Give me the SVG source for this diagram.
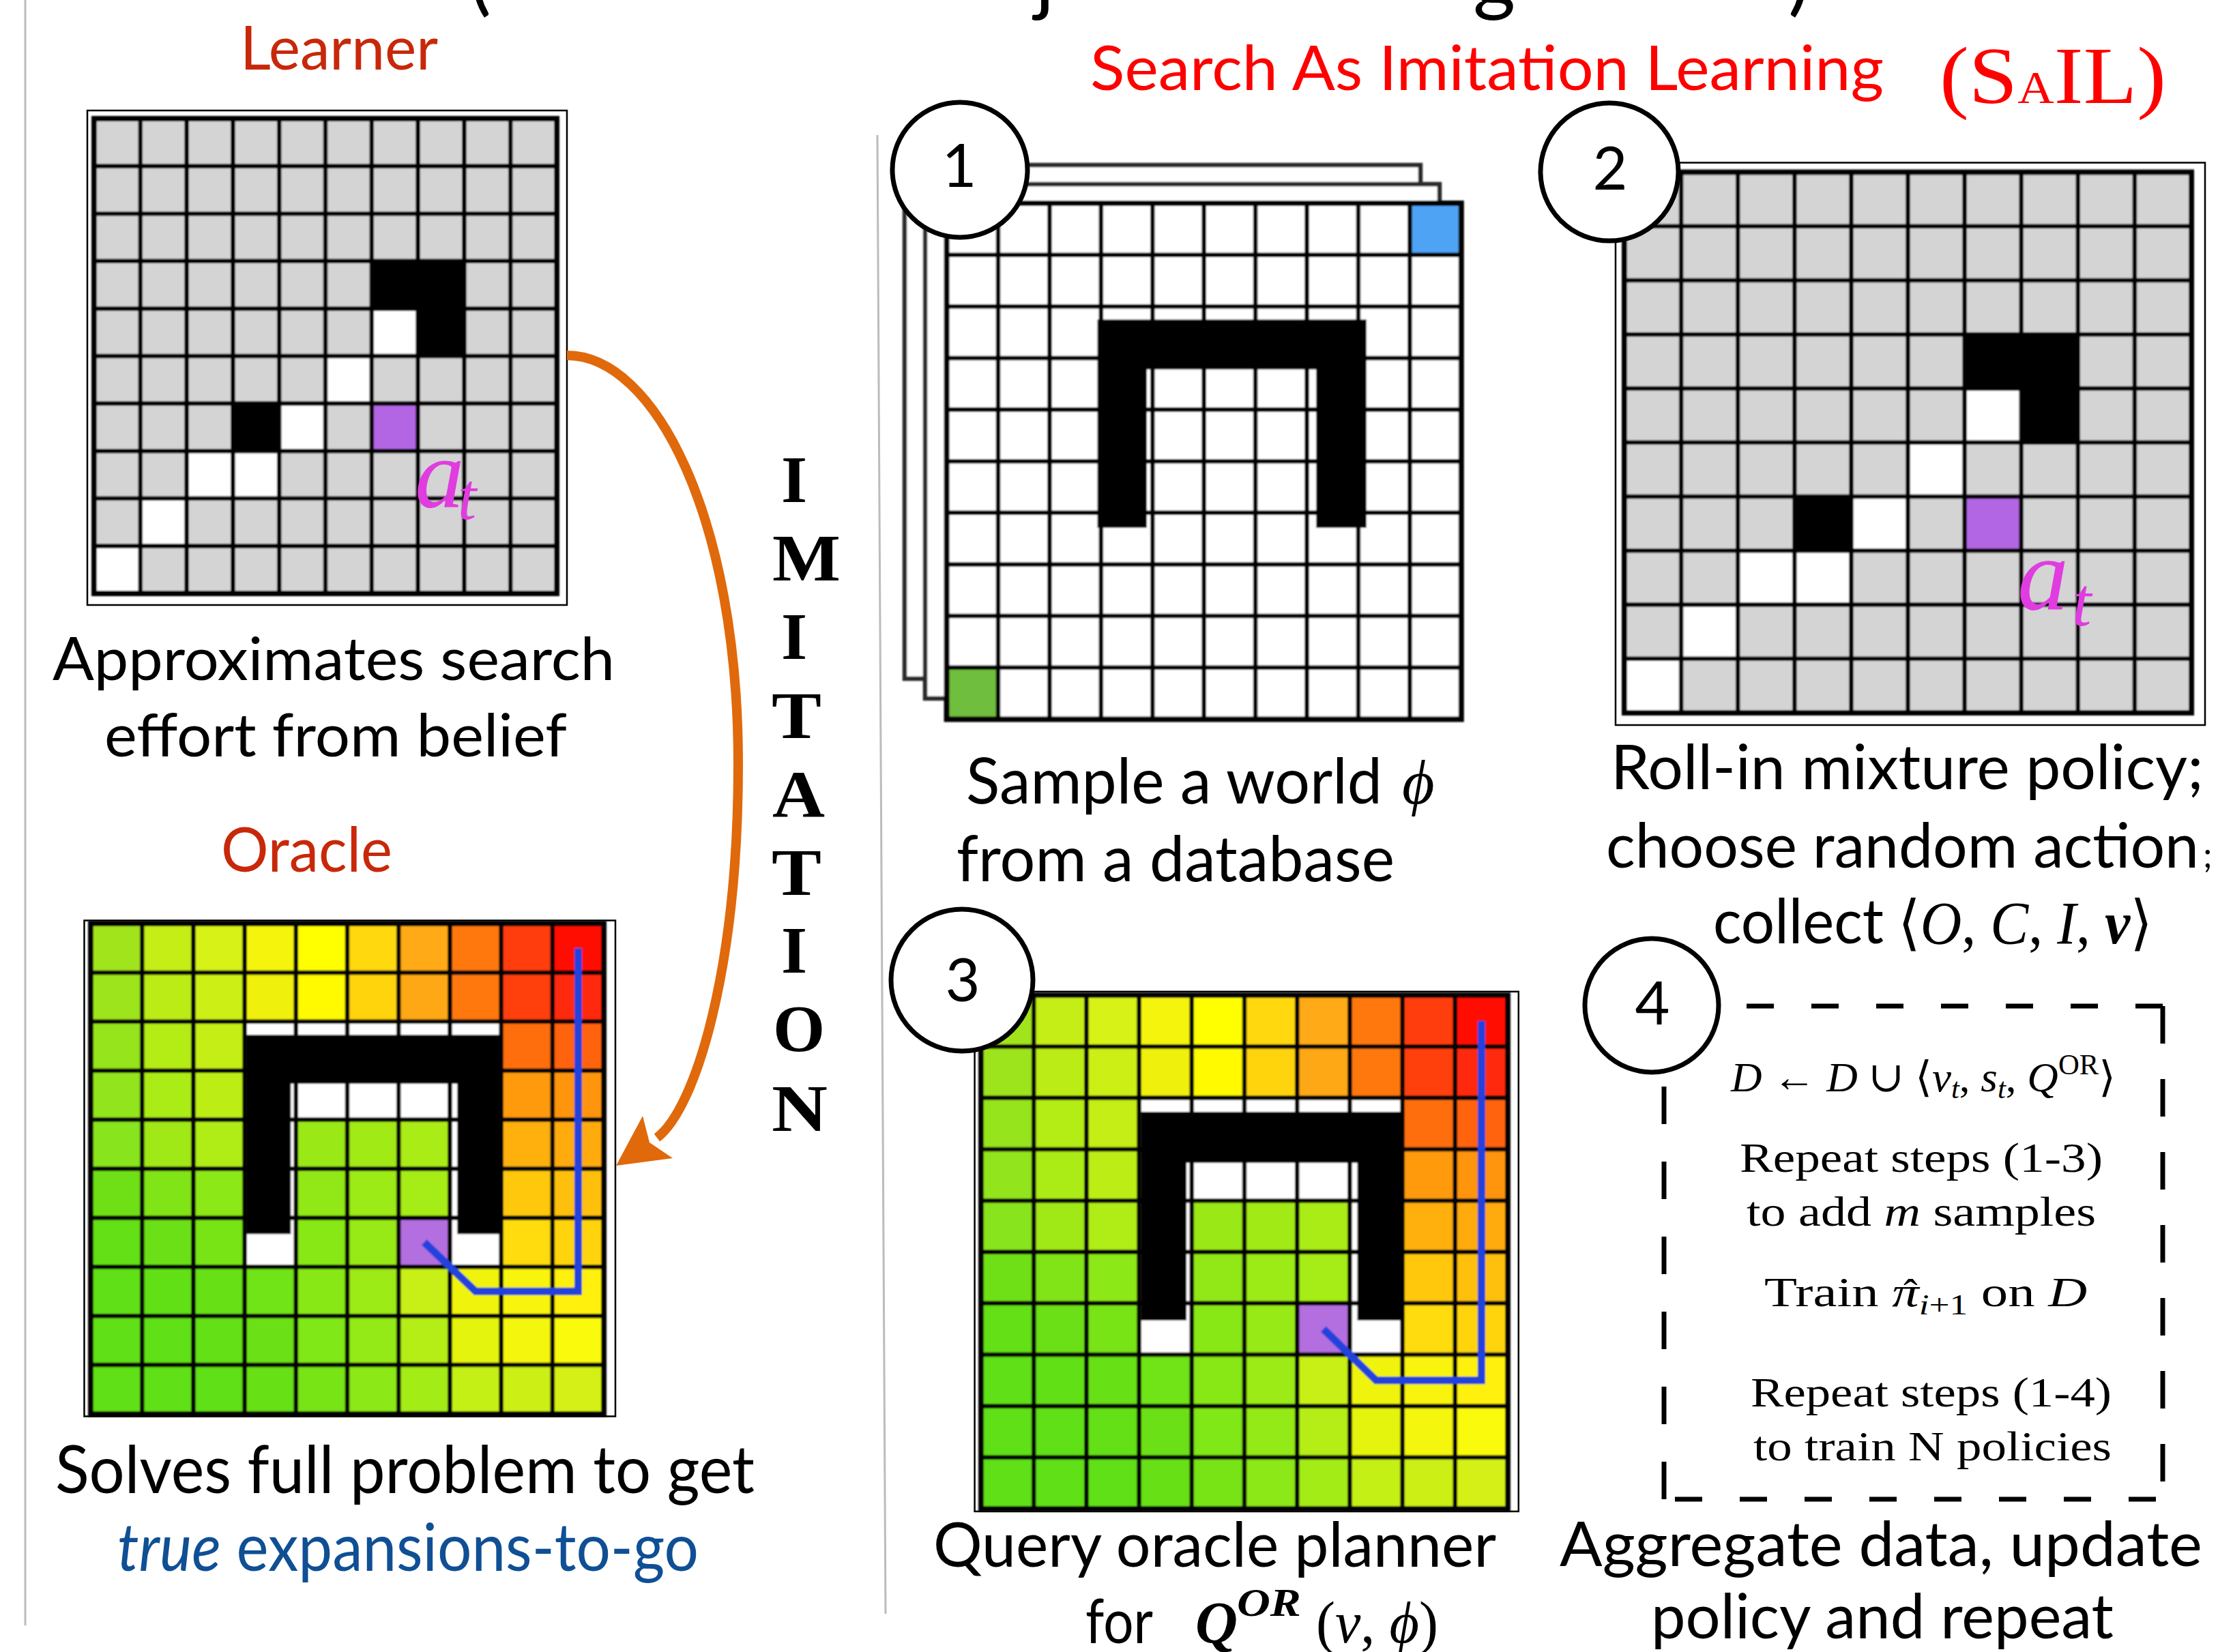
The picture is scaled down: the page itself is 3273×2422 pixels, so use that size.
<svg xmlns="http://www.w3.org/2000/svg" xmlns:xlink="http://www.w3.org/1999/xlink" width="3273" height="2422" viewBox="0 0 3273 2422">
<style>
text{font-family:Lato,"Liberation Sans",sans-serif;fill:#000}
.rm{font-family:"Liberation Serif","DejaVu Serif",serif}
.lbl{fill:#c8280a}
.red{fill:#ff0000}
.blu{fill:#0f4f94}
.gl{fill:none;stroke:#000;stroke-width:6.5;vector-effect:non-scaling-stroke}
.gb{fill:none;stroke:#000;stroke-width:8;vector-effect:non-scaling-stroke}
.frame{fill:#fff;stroke:#000;stroke-width:2.5}
.sheet{fill:#fff;stroke:#2a2a2a;stroke-width:6.5}
.step circle{fill:#fff;stroke:#000;stroke-width:7}
.step text{font-size:88px;text-anchor:middle}
.sep{stroke:#bcbcbc;stroke-width:3}
.at{font-family:"Liberation Serif","DejaVu Serif",serif;font-style:italic;fill:#e03ce0}
.imit{font-family:"Liberation Serif","DejaVu Serif",serif;font-weight:bold;font-size:98px}
.box{font-family:"Liberation Serif","DejaVu Serif",serif;font-size:62px}
.dash{fill:none;stroke:#000;stroke-width:7}
</style>
<defs>
<filter id="soft" x="-2%" y="-2%" width="104%" height="104%"><feGaussianBlur stdDeviation="1"/></filter>
<!-- 10x10 grid lines in unit cell coordinates -->
<g id="lines10">
<path class="gl" vector-effect="non-scaling-stroke" d="M1 0V10M2 0V10M3 0V10M4 0V10M5 0V10M6 0V10M7 0V10M8 0V10M9 0V10M0 1H10M0 2H10M0 3H10M0 4H10M0 5H10M0 6H10M0 7H10M0 8H10M0 9H10"/>
<rect class="gb" vector-effect="non-scaling-stroke" width="10" height="10"/>
</g>
<!-- belief map: unknown cells grey, observed cells white/black, chosen action purple -->
<g id="belief">
<rect width="10" height="10" fill="#d4d4d4"/>
<g fill="#000"><rect x="6" y="3" width="2" height="1"/><rect x="7" y="4" width="1" height="1"/><rect x="3" y="6" width="1" height="1"/></g>
<g fill="#fff"><rect x="6" y="4" width="1" height="1"/><rect x="5" y="5" width="1" height="1"/><rect x="4" y="6" width="1" height="1"/><rect x="2" y="7" width="2" height="1"/><rect x="1" y="8" width="1" height="1"/><rect x="0" y="9" width="1" height="1"/></g>
<rect x="6" y="6" width="1" height="1" fill="#b366e3"/>
<use href="#lines10"/>
</g>
<!-- oracle heat map: cost-to-go colouring, wall and oracle path -->
<g id="heat">
<g><rect x="0" y="0" width="1" height="1" fill="#a2e41c"/><rect x="1" y="0" width="1" height="1" fill="#c4ee14"/><rect x="2" y="0" width="1" height="1" fill="#d6f212"/><rect x="3" y="0" width="1" height="1" fill="#f4f40c"/><rect x="4" y="0" width="1" height="1" fill="#ffff00"/><rect x="5" y="0" width="1" height="1" fill="#ffd80c"/><rect x="6" y="0" width="1" height="1" fill="#ffaa14"/><rect x="7" y="0" width="1" height="1" fill="#ff7810"/><rect x="8" y="0" width="1" height="1" fill="#ff3c08"/><rect x="9" y="0" width="1" height="1" fill="#ff0800"/></g>
<g><rect x="0" y="1" width="1" height="1" fill="#9ee41c"/><rect x="1" y="1" width="1" height="1" fill="#bcec14"/><rect x="2" y="1" width="1" height="1" fill="#ccf014"/><rect x="3" y="1" width="1" height="1" fill="#f0f00c"/><rect x="4" y="1" width="1" height="1" fill="#fffa00"/><rect x="5" y="1" width="1" height="1" fill="#ffd40c"/><rect x="6" y="1" width="1" height="1" fill="#ffa814"/><rect x="7" y="1" width="1" height="1" fill="#ff7810"/><rect x="8" y="1" width="1" height="1" fill="#ff400c"/><rect x="9" y="1" width="1" height="1" fill="#ff2a0c"/></g>
<g><rect x="0" y="2" width="1" height="1" fill="#96e41c"/><rect x="1" y="2" width="1" height="1" fill="#b4ec14"/><rect x="2" y="2" width="1" height="1" fill="#c4ee14"/><rect x="8" y="2" width="1" height="1" fill="#ff6e10"/><rect x="9" y="2" width="1" height="1" fill="#ff6410"/></g>
<g><rect x="0" y="3" width="1" height="1" fill="#92e41c"/><rect x="1" y="3" width="1" height="1" fill="#acec14"/><rect x="2" y="3" width="1" height="1" fill="#bcee14"/><rect x="8" y="3" width="1" height="1" fill="#ff9a10"/><rect x="9" y="3" width="1" height="1" fill="#ff9410"/></g>
<g><rect x="0" y="4" width="1" height="1" fill="#88e41c"/><rect x="1" y="4" width="1" height="1" fill="#a0e814"/><rect x="2" y="4" width="1" height="1" fill="#b0ec14"/><rect x="4" y="4" width="1" height="1" fill="#9ae814"/><rect x="5" y="4" width="1" height="1" fill="#a2ea14"/><rect x="6" y="4" width="1" height="1" fill="#aaec14"/><rect x="8" y="4" width="1" height="1" fill="#ffb010"/><rect x="9" y="4" width="1" height="1" fill="#ffaa10"/></g>
<g><rect x="0" y="5" width="1" height="1" fill="#70e014"/><rect x="1" y="5" width="1" height="1" fill="#80e414"/><rect x="2" y="5" width="1" height="1" fill="#8ce814"/><rect x="4" y="5" width="1" height="1" fill="#92e814"/><rect x="5" y="5" width="1" height="1" fill="#9cea14"/><rect x="6" y="5" width="1" height="1" fill="#a6ec14"/><rect x="8" y="5" width="1" height="1" fill="#ffc810"/><rect x="9" y="5" width="1" height="1" fill="#ffc010"/></g>
<g><rect x="0" y="6" width="1" height="1" fill="#64e014"/><rect x="1" y="6" width="1" height="1" fill="#6ce014"/><rect x="2" y="6" width="1" height="1" fill="#78e414"/><rect x="4" y="6" width="1" height="1" fill="#88e814"/><rect x="5" y="6" width="1" height="1" fill="#98ea14"/><rect x="6" y="6" width="1" height="1" fill="#b36ee0"/><rect x="8" y="6" width="1" height="1" fill="#ffdc10"/><rect x="9" y="6" width="1" height="1" fill="#ffd410"/></g>
<g><rect x="0" y="7" width="1" height="1" fill="#60e014"/><rect x="1" y="7" width="1" height="1" fill="#62e014"/><rect x="2" y="7" width="1" height="1" fill="#68e014"/><rect x="3" y="7" width="1" height="1" fill="#70e414"/><rect x="4" y="7" width="1" height="1" fill="#88e814"/><rect x="5" y="7" width="1" height="1" fill="#9cea14"/><rect x="6" y="7" width="1" height="1" fill="#c8f014"/><rect x="7" y="7" width="1" height="1" fill="#f0f40c"/><rect x="8" y="7" width="1" height="1" fill="#f8f40c"/><rect x="9" y="7" width="1" height="1" fill="#fff00c"/></g>
<g><rect x="0" y="8" width="1" height="1" fill="#60e014"/><rect x="1" y="8" width="1" height="1" fill="#60e014"/><rect x="2" y="8" width="1" height="1" fill="#64e014"/><rect x="3" y="8" width="1" height="1" fill="#6ce014"/><rect x="4" y="8" width="1" height="1" fill="#80e814"/><rect x="5" y="8" width="1" height="1" fill="#94ea14"/><rect x="6" y="8" width="1" height="1" fill="#b4ee14"/><rect x="7" y="8" width="1" height="1" fill="#e4f40c"/><rect x="8" y="8" width="1" height="1" fill="#f4f60a"/><rect x="9" y="8" width="1" height="1" fill="#fafa08"/></g>
<g><rect x="0" y="9" width="1" height="1" fill="#60e014"/><rect x="1" y="9" width="1" height="1" fill="#60e014"/><rect x="2" y="9" width="1" height="1" fill="#60e014"/><rect x="3" y="9" width="1" height="1" fill="#68e014"/><rect x="4" y="9" width="1" height="1" fill="#78e414"/><rect x="5" y="9" width="1" height="1" fill="#8ce814"/><rect x="6" y="9" width="1" height="1" fill="#a4ec14"/><rect x="7" y="9" width="1" height="1" fill="#c4f014"/><rect x="8" y="9" width="1" height="1" fill="#ccf014"/><rect x="9" y="9" width="1" height="1" fill="#d4f014"/></g>
<g fill="#fff"><rect x="3" y="2" width="5" height="2"/><rect x="3" y="4" width="1" height="3"/><rect x="7" y="4" width="1" height="3"/></g>
<use href="#lines10"/>
<path d="M3.04 2.27H7.97V6.33H7.145V3.265H3.9V6.33H3.04Z" fill="#000"/>
<path d="M6.5 6.5L7.5 7.5H9.5V0.5" fill="none" stroke="#2242dc" stroke-width="11" vector-effect="non-scaling-stroke"/>
</g>
</defs>

<rect width="3273" height="2422" fill="#fff"/>

<!-- panel separators -->
<line class="sep" x1="37" y1="0" x2="37" y2="2383"/>
<line class="sep" x1="1286" y1="198" x2="1298" y2="2366"/>

<!-- lower edge of the title line above -->
<text font-size="120" y="8"><tspan x="688">(</tspan><tspan x="1517">j</tspan><tspan x="2159">g</tspan><tspan x="2621">)</tspan></text>

<!-- left panel -->
<g id="learner">
<text class="lbl" x="352" y="102" font-size="90" textLength="290" lengthAdjust="spacingAndGlyphs">Learner</text>
<rect class="frame" x="128" y="162" width="703" height="725"/>
<g filter="url(#soft)"><use href="#belief" transform="translate(138 174) scale(67.8 69.6)"/></g>
<text class="at" x="608" y="744" font-size="145">a</text>
<text class="at" x="671" y="761" font-size="98">t</text>
<text x="77" y="997" font-size="88" textLength="824" lengthAdjust="spacingAndGlyphs">Approximates search</text>
<text x="153" y="1109" font-size="88" textLength="678" lengthAdjust="spacingAndGlyphs">effort from belief</text>
</g>

<g id="oracle">
<text class="lbl" x="324" y="1278" font-size="92" textLength="251" lengthAdjust="spacingAndGlyphs">Oracle</text>
<rect class="frame" x="123.5" y="1349.5" width="778.5" height="727"/>
<g filter="url(#soft)"><use href="#heat" transform="translate(133 1354) scale(75.2 71.9)"/></g>
<text x="81" y="2189" font-size="97" textLength="1025" lengthAdjust="spacingAndGlyphs">Solves full problem to get</text>
<text class="blu" x="172" y="2303" font-size="97" textLength="852" lengthAdjust="spacingAndGlyphs"><tspan font-style="italic">true</tspan> expansions-to-go</text>
</g>

<!-- IMITATION, set one letter per line -->
<g id="imitation">
<text class="imit" x="1145" y="736">I</text>
<text class="imit" x="1132" y="851" textLength="100" lengthAdjust="spacingAndGlyphs">M</text>
<text class="imit" x="1145" y="966">I</text>
<text class="imit" x="1131" y="1082" textLength="73" lengthAdjust="spacingAndGlyphs">T</text>
<text class="imit" x="1132" y="1197" textLength="77" lengthAdjust="spacingAndGlyphs">A</text>
<text class="imit" x="1131" y="1312" textLength="73" lengthAdjust="spacingAndGlyphs">T</text>
<text class="imit" x="1145" y="1426">I</text>
<text class="imit" x="1133" y="1541">O</text>
<text class="imit" x="1131" y="1658" textLength="82" lengthAdjust="spacingAndGlyphs">N</text>
</g>

<!-- right panel header -->
<g id="sail-title">
<text class="red" x="1598" y="132" font-size="91" textLength="1163" lengthAdjust="spacingAndGlyphs">Search As Imitation Learning</text>
<text class="rm red" x="2843" y="151" font-size="118" textLength="332" lengthAdjust="spacingAndGlyphs">(S<tspan font-size="68">A</tspan>IL)</text>
</g>

<!-- step 1: sample a world -->
<g id="world-stack">
<g filter="url(#soft)">
<rect class="sheet" x="1326" y="242" width="756" height="753"/>
<rect class="sheet" x="1356" y="270" width="754" height="754"/>
<g transform="translate(1387.6 298) scale(75.42 75.64)">
<rect width="10" height="10" fill="#fff"/>
<rect x="9" y="0" width="1" height="1" fill="#4fa3f5"/>
<rect x="0" y="9" width="1" height="1" fill="#6fbe3e"/>
<use href="#lines10"/>
<path d="M2.93 2.255H8.157V6.29H7.181V3.22H3.889V6.29H2.93Z" fill="#000"/>
</g>
</g>
<text x="1416" y="1178" font-size="93" textLength="610" lengthAdjust="spacingAndGlyphs">Sample a world</text>
<text class="rm" x="2055" y="1178" font-size="92" font-style="italic">ϕ</text>
<text x="1402" y="1292" font-size="93" textLength="642" lengthAdjust="spacingAndGlyphs">from a database</text>
</g>
<g id="step1" class="step"><circle cx="1407" cy="249" r="99"/><text x="1406" y="274">1</text></g>

<!-- step 2: roll-in -->
<g id="rollin">
<rect class="frame" x="2368" y="238.5" width="864" height="824.5"/>
<g filter="url(#soft)"><use href="#belief" transform="translate(2381 252.5) scale(83.1 79.25)"/></g>
<text class="at" x="2957" y="893" font-size="150">a</text>
<text class="at" x="3037" y="917" font-size="102">t</text>
<text x="2361" y="1157" font-size="91" textLength="869" lengthAdjust="spacingAndGlyphs">Roll-in mixture policy;</text>
<text x="2354" y="1272" font-size="91" textLength="869" lengthAdjust="spacingAndGlyphs">choose random action</text>
<text x="3229" y="1272" font-size="52">;</text>
<text x="2511" y="1383" font-size="91" textLength="250" lengthAdjust="spacingAndGlyphs">collect</text>
<text class="rm" x="2782" y="1383" font-size="88" textLength="373" lengthAdjust="spacingAndGlyphs">⟨<tspan font-style="italic">O</tspan>, <tspan font-style="italic">C</tspan>, <tspan font-style="italic">I</tspan>, <tspan font-style="italic" font-weight="bold">v</tspan>⟩</text>
</g>
<g id="step2" class="step"><circle cx="2359" cy="252" r="101"/><text x="2360" y="278">2</text></g>

<!-- step 3: oracle query -->
<g id="query">
<rect class="frame" x="1428.6" y="1453.8" width="797.2" height="762.1"/>
<g filter="url(#soft)"><use href="#heat" transform="translate(1438 1459) scale(77.2 75.3)"/></g>
<text x="1368" y="2297" font-size="92" textLength="825" lengthAdjust="spacingAndGlyphs">Query oracle planner</text>
<text x="1591" y="2409" font-size="92" textLength="99" lengthAdjust="spacingAndGlyphs">for</text>
<text class="rm" x="1752" y="2408" font-size="86" font-style="italic" font-weight="bold">Q</text>
<text class="rm" x="1813" y="2369" font-size="56" font-style="italic" font-weight="bold" textLength="94" lengthAdjust="spacingAndGlyphs">OR</text>
<text class="rm" x="1929" y="2408" font-size="86" textLength="179" lengthAdjust="spacingAndGlyphs">(<tspan font-style="italic">v</tspan>, <tspan font-style="italic">ϕ</tspan>)</text>
</g>
<g id="step3" class="step"><circle cx="1410" cy="1437" r="104"/><text x="1411" y="1468">3</text></g>

<!-- step 4: aggregate and retrain -->
<g id="aggregate">
<path class="dash" stroke-dasharray="40 55" d="M2560 1475H3170"/>
<path class="dash" stroke-dasharray="55 52" d="M3170 1475V2198"/>
<path class="dash" stroke-dasharray="40 55" d="M3160 2198H2439"/>
<path class="dash" stroke-dasharray="55 55" d="M2439 2198V1590"/>
<text class="box" x="2537" y="1600" textLength="564" lengthAdjust="spacingAndGlyphs"><tspan font-style="italic">D</tspan> ← <tspan font-style="italic">D</tspan> ∪ ⟨<tspan font-style="italic">v</tspan><tspan font-size="42" dy="10" font-style="italic">t</tspan><tspan dy="-10">, </tspan><tspan font-style="italic">s</tspan><tspan font-size="42" dy="10" font-style="italic">t</tspan><tspan dy="-10">, </tspan><tspan font-style="italic">Q</tspan><tspan font-size="42" dy="-25">OR</tspan><tspan dy="25">⟩</tspan></text>
<text class="box" x="2550" y="1718" textLength="532" lengthAdjust="spacingAndGlyphs">Repeat steps (1-3)</text>
<text class="box" x="2560" y="1797" textLength="512" lengthAdjust="spacingAndGlyphs">to add <tspan font-style="italic">m</tspan> samples</text>
<text class="box" x="2586" y="1915" textLength="473" lengthAdjust="spacingAndGlyphs">Train <tspan font-style="italic">π</tspan><tspan font-size="42" dy="12"><tspan font-style="italic">i</tspan>+1</tspan><tspan dy="-12"> on </tspan><tspan font-style="italic">D</tspan></text>
<text class="box" x="2790" y="1918">ˆ</text>
<text class="box" x="2566" y="2062" textLength="529" lengthAdjust="spacingAndGlyphs">Repeat steps (1-4)</text>
<text class="box" x="2570" y="2141" textLength="525" lengthAdjust="spacingAndGlyphs">to train N policies</text>
<text x="2286" y="2296" font-size="92" textLength="942" lengthAdjust="spacingAndGlyphs">Aggregate data, update</text>
<text x="2420" y="2402" font-size="92" textLength="678" lengthAdjust="spacingAndGlyphs">policy and repeat</text>
</g>
<g id="step4" class="step"><circle cx="2421" cy="1474" r="98"/><text x="2422" y="1502">4</text></g>

<!-- imitation arrow from learner to oracle -->
<g id="connectors">
<path d="M831 521C960 521 1082 760 1082 1120C1082 1420 1020 1625 963 1668" fill="none" stroke="#e0690c" stroke-width="14"/>
<polygon points="903,1709 942,1636 952,1675 986,1698" fill="#e0690c"/>
</g>
</svg>
